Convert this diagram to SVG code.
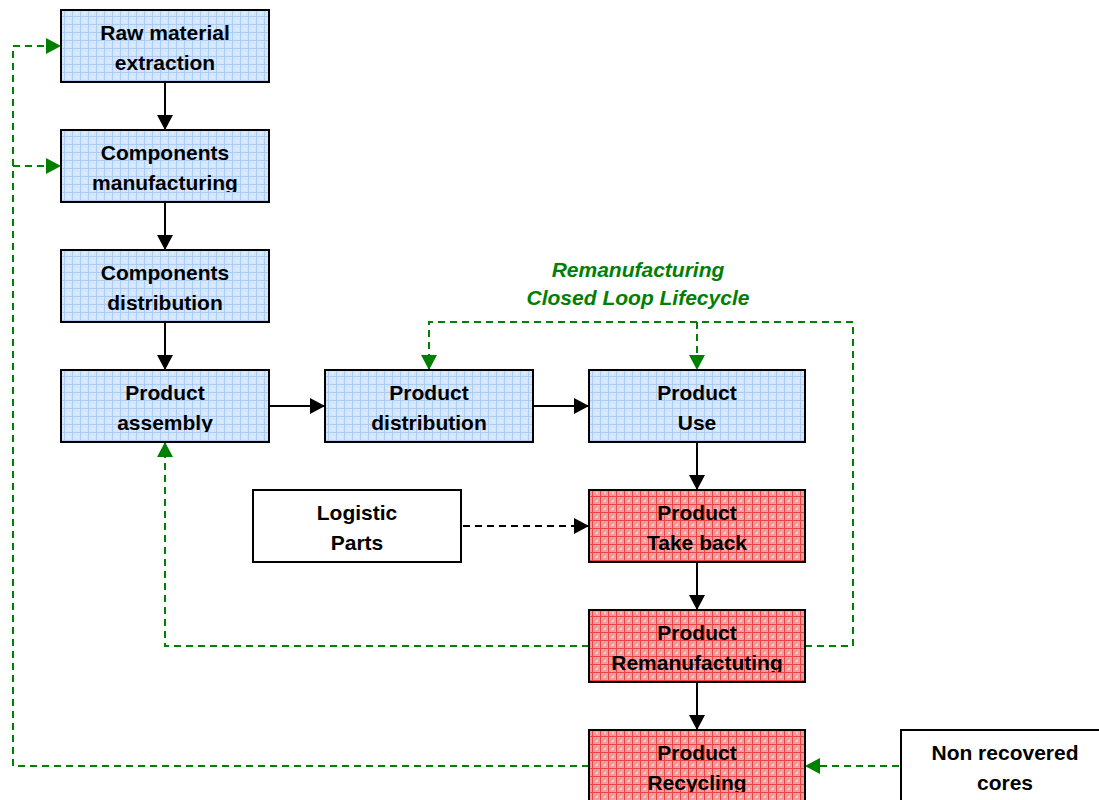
<svg xmlns="http://www.w3.org/2000/svg" width="1099" height="800" viewBox="0 0 1099 800">
<defs>
<pattern id="pb" width="8" height="8" patternUnits="userSpaceOnUse">
<rect width="8" height="8" fill="#d4e6fb"/>
<rect x="0" y="0" width="8" height="1" fill="#acccf3"/>
<rect x="0" y="0" width="1" height="8" fill="#acccf3"/>
<rect x="4" y="4" width="2" height="2" fill="#e6f0fd"/>
</pattern>
<pattern id="pr" width="8" height="8" patternUnits="userSpaceOnUse">
<rect width="8" height="8" fill="#f49c9c"/>
<rect x="0" y="0" width="8" height="1" fill="#ea4444"/>
<rect x="0" y="0" width="1" height="8" fill="#ea4444"/>
<rect x="4" y="4" width="2" height="2" fill="#fac8c8"/>
</pattern>
<marker id="ab" viewBox="0 0 15 16" refX="15" refY="8" markerWidth="15" markerHeight="16" markerUnits="userSpaceOnUse" orient="auto"><path d="M0,0 L15,8 L0,16 Z" fill="#000"/></marker>
<marker id="ag" viewBox="0 0 15 16" refX="15" refY="8" markerWidth="15" markerHeight="16" markerUnits="userSpaceOnUse" orient="auto"><path d="M0,0 L15,8 L0,16 Z" fill="#008000"/></marker>
<clipPath id="c1"><rect x="61" y="10" width="208" height="62"/></clipPath>
<clipPath id="c2"><rect x="61" y="130" width="208" height="62"/></clipPath>
<clipPath id="c3"><rect x="61" y="250" width="208" height="62"/></clipPath>
<clipPath id="c4"><rect x="61" y="370" width="208" height="62"/></clipPath>
<clipPath id="c5"><rect x="325" y="370" width="208" height="62"/></clipPath>
<clipPath id="c6"><rect x="589" y="370" width="216" height="62"/></clipPath>
<clipPath id="c8"><rect x="589" y="490" width="216" height="62"/></clipPath>
<clipPath id="c9"><rect x="589" y="610" width="216" height="62"/></clipPath>
<clipPath id="c10"><rect x="589" y="730" width="216" height="62"/></clipPath>
</defs>
<style>
.b{fill:url(#pb);stroke:#000;stroke-width:2}
.r{fill:url(#pr);stroke:#000;stroke-width:2}
.w{fill:#fff;stroke:#000;stroke-width:2}
text{font-family:"Liberation Sans",Arial,sans-serif;font-weight:bold;font-size:21px;text-anchor:middle;fill:#000}
.s{fill:none;stroke:#000;stroke-width:2}
.d{fill:none;stroke:#000;stroke-width:2;stroke-dasharray:7,5}
.g{fill:none;stroke:#008000;stroke-width:2;stroke-dasharray:7,5}
.lbl{fill:#008000;font-style:italic;font-size:21px}
</style>
<rect width="1099" height="800" fill="#fff"/>
<g id="connectors">
<line class="s" x1="165" y1="82" x2="165" y2="130" marker-end="url(#ab)"/>
<line class="s" x1="165" y1="202" x2="165" y2="250" marker-end="url(#ab)"/>
<line class="s" x1="165" y1="322" x2="165" y2="370" marker-end="url(#ab)"/>
<line class="s" x1="269" y1="406" x2="325" y2="406" marker-end="url(#ab)"/>
<line class="s" x1="533" y1="406" x2="589" y2="406" marker-end="url(#ab)"/>
<line class="s" x1="697" y1="442" x2="697" y2="490" marker-end="url(#ab)"/>
<line class="s" x1="697" y1="562" x2="697" y2="610" marker-end="url(#ab)"/>
<line class="s" x1="697" y1="682" x2="697" y2="730" marker-end="url(#ab)"/>
<line class="d" x1="463" y1="526" x2="589" y2="526" marker-end="url(#ab)"/>
<path class="g" d="M589,646 H165 V442" marker-end="url(#ag)"/>
<path class="g" d="M805,646 H853 V322 H429 V370" marker-end="url(#ag)"/>
<path class="g" d="M697,322 V370" marker-end="url(#ag)"/>
<path class="g" d="M589,766 H13 V46 H61" marker-end="url(#ag)"/>
<path class="g" d="M13,166 H61" marker-end="url(#ag)"/>
<path class="g" d="M899,766 H805" marker-end="url(#ag)"/>
</g>
<g id="label-loop">
<text class="lbl" x="638" y="277">Remanufacturing</text>
<text class="lbl" x="638" y="305">Closed Loop Lifecycle</text>
</g>
<g id="raw-material-extraction">
<rect class="b" x="61" y="10" width="208" height="72"/>
<g clip-path="url(#c1)"><text x="165" y="40">Raw material</text><text x="165" y="70">extraction</text></g>
</g>
<g id="components-manufacturing">
<rect class="b" x="61" y="130" width="208" height="72"/>
<g clip-path="url(#c2)"><text x="165" y="160">Components</text><text x="165" y="190">manufacturing</text></g>
</g>
<g id="components-distribution">
<rect class="b" x="61" y="250" width="208" height="72"/>
<g clip-path="url(#c3)"><text x="165" y="280">Components</text><text x="165" y="310">distribution</text></g>
</g>
<g id="product-assembly">
<rect class="b" x="61" y="370" width="208" height="72"/>
<g clip-path="url(#c4)"><text x="165" y="400">Product</text><text x="165" y="430">assembly</text></g>
</g>
<g id="product-distribution">
<rect class="b" x="325" y="370" width="208" height="72"/>
<g clip-path="url(#c5)"><text x="429" y="400">Product</text><text x="429" y="430">distribution</text></g>
</g>
<g id="product-use">
<rect class="b" x="589" y="370" width="216" height="72"/>
<g clip-path="url(#c6)"><text x="697" y="400">Product</text><text x="697" y="430">Use</text></g>
</g>
<g id="logistic-parts">
<rect class="w" x="253" y="490" width="208" height="72"/>
<text x="357" y="520">Logistic</text><text x="357" y="550">Parts</text>
</g>
<g id="product-take-back">
<rect class="r" x="589" y="490" width="216" height="72"/>
<g clip-path="url(#c8)"><text x="697" y="520">Product</text><text x="697" y="550">Take back</text></g>
</g>
<g id="product-remanufacturing">
<rect class="r" x="589" y="610" width="216" height="72"/>
<g clip-path="url(#c9)"><text x="697" y="640">Product</text><text x="697" y="670">Remanufactuting</text></g>
</g>
<g id="product-recycling">
<rect class="r" x="589" y="730" width="216" height="80"/>
<g clip-path="url(#c10)"><text x="697" y="760">Product</text><text x="697" y="790">Recycling</text></g>
</g>
<g id="non-recovered-cores">
<rect class="w" x="901" y="730" width="210" height="80"/>
<text x="1005" y="760">Non recovered</text><text x="1005" y="790">cores</text>
</g>
</svg>
